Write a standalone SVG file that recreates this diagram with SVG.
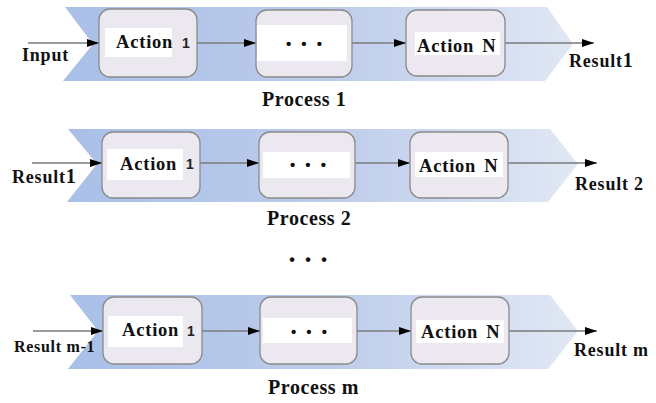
<svg xmlns="http://www.w3.org/2000/svg" width="656" height="403" viewBox="0 0 656 403">
<style>
.band{stroke:none}
.box{fill:#ebe8ef;stroke:#8a8a8a;stroke-width:1.3}
.inner{fill:#ffffff}
.t{font-family:"Liberation Serif","Times New Roman",serif;font-weight:bold;fill:#111}
.act{font-size:18.5px;letter-spacing:0.8px}
.lbl{font-size:18px;letter-spacing:0.8px}
.proc{font-size:20px;letter-spacing:0.6px}
.one{font-family:"Liberation Sans",Arial,sans-serif;font-weight:bold;font-size:14px;fill:#222}
.dots{font-family:"Liberation Sans",Arial,sans-serif;font-size:15px;font-weight:bold;fill:#111;word-spacing:6px}
.conn{stroke:#7a7a7a;stroke-width:1.3;fill:none;marker-end:url(#ah)}
</style>
<defs>
<linearGradient id="g" gradientUnits="userSpaceOnUse" x1="65" y1="0" x2="578" y2="0">
<stop offset="0" stop-color="#a9bfe7"/>
<stop offset="0.5" stop-color="#bccbeb"/>
<stop offset="1" stop-color="#e1e8f4"/>
</linearGradient>
<marker id="ah" viewBox="0 0 12 8" refX="12" refY="4" markerWidth="12" markerHeight="8" markerUnits="userSpaceOnUse" orient="auto">
<path d="M0,0 L12,4 L0,8 Z" fill="#000"/>
</marker>
</defs>

<g id="process1">
<polygon class="band" fill="url(#g)" points="65,7 547,7 573,44 545,81 63,81 93,44"/>
<text class="t proc" x="262" y="106">Process 1</text>
</g>
<g id="process2">
<polygon class="band" fill="url(#g)" points="68,129 550,129 578,164 548,202 67,202 97,164"/>
<text class="t proc" x="267" y="225">Process 2</text>
</g>
<g id="processm">
<polygon class="band" fill="url(#g)" points="70,295 550,295 578,331 548,369 68,369 98,331"/>
<text class="t proc" x="268" y="394">Process m</text>
</g>

<g id="connectors">
<line class="conn" x1="28" y1="43" x2="99" y2="43"/>
<line class="conn" x1="197" y1="43" x2="256" y2="43"/>
<line class="conn" x1="352" y1="43" x2="406" y2="43"/>
<line class="conn" x1="505" y1="43" x2="594" y2="43"/>
<line class="conn" x1="32" y1="163" x2="102" y2="163"/>
<line class="conn" x1="200" y1="163" x2="259" y2="163"/>
<line class="conn" x1="355" y1="163" x2="410" y2="163"/>
<line class="conn" x1="508" y1="163" x2="597" y2="163"/>
<line class="conn" x1="33" y1="331" x2="103" y2="331"/>
<line class="conn" x1="202" y1="331" x2="260" y2="331"/>
<line class="conn" x1="357" y1="331" x2="411" y2="331"/>
<line class="conn" x1="509" y1="331" x2="597" y2="331"/>
</g>

<g id="p1-action1">
<rect class="box" x="99" y="9" width="98" height="68" rx="11"/>
<rect class="inner" x="105" y="28" width="67" height="29"/>
<text class="t act" x="116" y="48">Action</text>
<text class="one" x="182" y="48">1</text>
</g>
<g id="p1-dots">
<rect class="box" x="256" y="10" width="96" height="67" rx="11"/>
<rect class="inner" x="257" y="25" width="90" height="36"/>
<text class="dots" x="304" y="49" text-anchor="middle">• • •</text>
</g>
<g id="p1-actionN">
<rect class="box" x="406" y="10" width="99" height="66" rx="11"/>
<rect class="inner" x="415" y="32" width="85" height="23"/>
<text class="t act" x="417" y="52">Action<tspan dx="8">N</tspan></text>
</g>

<g id="p2-action1">
<rect class="box" x="102" y="132" width="98" height="66" rx="11"/>
<rect class="inner" x="107" y="149" width="76" height="31"/>
<text class="t act" x="120" y="170">Action</text>
<text class="one" x="186" y="169">1</text>
</g>
<g id="p2-dots">
<rect class="box" x="259" y="132" width="96" height="66" rx="11"/>
<rect class="inner" x="263" y="152" width="87" height="26"/>
<text class="dots" x="308" y="170" text-anchor="middle">• • •</text>
</g>
<g id="p2-actionN">
<rect class="box" x="410" y="132" width="98" height="66" rx="11"/>
<rect class="inner" x="415" y="152" width="88" height="25"/>
<text class="t act" x="419" y="172">Action<tspan dx="8">N</tspan></text>
</g>

<g id="p3-action1">
<rect class="box" x="103" y="297" width="99" height="67" rx="11"/>
<rect class="inner" x="108" y="316" width="75" height="31"/>
<text class="t act" x="122" y="336">Action</text>
<text class="one" x="187" y="336">1</text>
</g>
<g id="p3-dots">
<rect class="box" x="260" y="297" width="97" height="67" rx="11"/>
<rect class="inner" x="263" y="318" width="89" height="25"/>
<text class="dots" x="309" y="337" text-anchor="middle">• • •</text>
</g>
<g id="p3-actionN">
<rect class="box" x="411" y="297" width="98" height="67" rx="11"/>
<rect class="inner" x="416" y="320" width="88" height="23"/>
<text class="t act" x="421" y="338">Action<tspan dx="8">N</tspan></text>
</g>

<g id="labels">
<text class="t lbl" x="22" y="61">Input</text>
<text class="t lbl" x="569" y="67">Result<tspan style="font-size:20px">1</tspan></text>
<text class="t lbl" x="12" y="183">Result<tspan style="font-size:20px">1</tspan></text>
<text class="t lbl" x="575" y="190">Result 2</text>
<text class="t" x="14" y="352" style="font-size:16px;letter-spacing:0.7px">Result m-1</text>
<text class="t lbl" x="574" y="356">Result m</text>
<text class="dots" x="308" y="265" text-anchor="middle" style="font-size:16px">• • •</text>
</g>
</svg>
